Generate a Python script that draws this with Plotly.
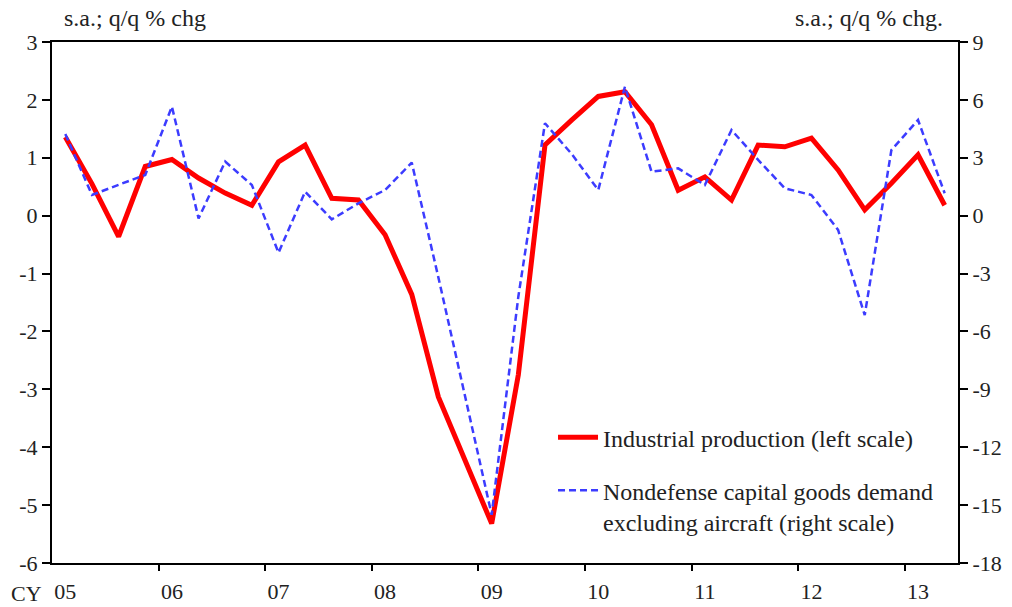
import plotly.graph_objects as go

quarters = list(range(34))  # 2005Q1 .. 2013Q2
industrial_production = [1.36, 0.55, -0.36, 0.85, 0.97, 0.65, 0.39, 0.18, 0.93, 1.22,
                         0.30, 0.27, -0.33, -1.36, -3.13, -4.22, -5.32, -2.75, 1.22, 1.65,
                         2.06, 2.14, 1.57, 0.44, 0.67, 0.27, 1.22, 1.19, 1.34, 0.79,
                         0.10, 0.56, 1.05, 0.18]
capital_goods = [4.23, 1.07, 1.6, 2.11, 5.65, -0.14, 2.80, 1.59, -1.92, 1.24,
                 -0.19, 0.64, 1.33, 2.75, -3.2, -9.3, -15.5, -4.2, 4.79, 3.2,
                 1.33, 6.68, 2.28, 2.45, 1.59, 4.44, 2.89, 1.42, 1.07, -0.74,
                 -5.15, 3.40, 4.96, 1.16]
year_labels = ["05", "06", "07", "08", "09", "10", "11", "12", "13"]
year_label_pos = [0, 4, 8, 12, 16, 20, 24, 28, 32]
year_tick_pos = [3.5, 7.5, 11.5, 15.5, 19.5, 23.5, 27.5, 31.5]
left_ticks = [3, 2, 1, 0, -1, -2, -3, -4, -5, -6]
right_ticks = [9, 6, 3, 0, -3, -6, -9, -12, -15, -18]

FONT = "Liberation Serif"
TXT = "#222222"

fig = go.Figure()
fig.add_trace(go.Scatter(
    x=quarters, y=industrial_production, mode="lines",
    name="Industrial production (left scale)",
    line=dict(color="#FF0000", width=5), legendgroup="a"))
fig.add_trace(go.Scatter(
    x=quarters, y=capital_goods, mode="lines", yaxis="y2",
    name="Nondefense capital goods demand<br>excluding aircraft (right scale)",
    line=dict(color="#3C3CFF", width=2.5, dash="7px,4px"), legendgroup="b"))

fig.update_layout(
    width=1012, height=607,
    margin=dict(l=52, r=54, t=42, b=44),
    paper_bgcolor="white", plot_bgcolor="white",
    font=dict(family=FONT, size=22, color=TXT),
    showlegend=True,
    legend=dict(x=0.553, y=0.284, xanchor="left", yanchor="top", valign="top",
                bgcolor="rgba(0,0,0,0)", font=dict(size=24, family=FONT, color=TXT),
                tracegroupgap=19, itemwidth=40),
    xaxis=dict(range=[-0.5, 33.5], tickmode="array", tickvals=year_label_pos,
               ticktext=year_labels, ticks="", showgrid=False, zeroline=False,
               showline=True, linecolor="black", linewidth=2, mirror=True,
               ticklabelstandoff=8, automargin=False,
               tickfont=dict(size=22, family=FONT, color=TXT),
               minor=dict(tickmode="array", tickvals=year_tick_pos, ticks="outside",
                          ticklen=6, tickcolor="black", tickwidth=1.5, showgrid=False)),
    yaxis=dict(range=[-6, 3], tickmode="array", tickvals=left_ticks,
               ticktext=[str(v) for v in left_ticks], ticks="outside", automargin=False,
               ticklen=8, tickcolor="black", tickwidth=1.5, showgrid=False, zeroline=False,
               showline=True, linecolor="black", linewidth=2, mirror=True,
               tickfont=dict(size=22, family=FONT, color=TXT)),
    yaxis2=dict(range=[-18, 9], tickmode="array", tickvals=right_ticks,
                ticktext=[str(v) for v in right_ticks], overlaying="y", automargin=False,
                side="right", ticks="outside", ticklen=8, tickcolor="black", tickwidth=1.5,
                showgrid=False, zeroline=False, showline=True, linecolor="black", linewidth=2,
                tickfont=dict(size=22, family=FONT, color=TXT)),
    annotations=[
        dict(text="s.a.; q/q % chg", xref="paper", yref="paper", x=0.011, y=1.046,
             xanchor="left", yanchor="middle", showarrow=False,
             font=dict(size=24, family=FONT, color=TXT)),
        dict(text="s.a.; q/q % chg.", xref="paper", yref="paper", x=0.9857, y=1.046,
             xanchor="right", yanchor="middle", showarrow=False,
             font=dict(size=24, family=FONT, color=TXT)),
        dict(text="CY", xref="paper", yref="paper", x=-0.028, y=-0.058,
             xanchor="center", yanchor="middle", showarrow=False,
             font=dict(size=22, family=FONT, color=TXT)),
    ],
)

fig.write_html("out.html", config={"displayModeBar": False},
               post_script="document.body.style.margin='0';document.body.style.padding='0';")
